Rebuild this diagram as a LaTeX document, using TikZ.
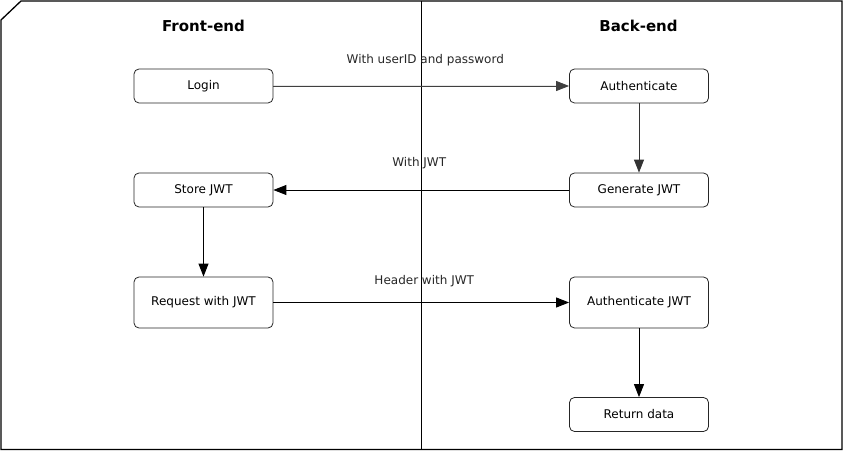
\documentclass[tikz,border=0pt]{standalone}
\usepackage{fontspec}
\setmainfont{DejaVu Sans}
\usetikzlibrary{arrows.meta}
\begin{document}
\begin{tikzpicture}[x=1bp,y=-1bp,
  box/.style={draw=black!85, line width=0.8bp, rounded corners=5bp, minimum width=139bp, inner sep=0pt, font=\fontsize{12bp}{14bp}\selectfont},
  sbox/.style={box, minimum height=34bp},
  tbox/.style={box, minimum height=51bp},
  title/.style={font=\fontsize{15bp}{18bp}\selectfont\bfseries},
  lbl/.style={font=\fontsize{12bp}{14bp}\selectfont, text=black!85},
  conn/.style={line width=0.9bp, -{Triangle[length=13bp,width=10bp]}},
]
\useasboundingbox (0,0) rectangle (843,451);
% frame
\draw[line width=1.3bp] (1,20) -- (21,1) -- (842,1) -- (842,449.5) -- (1,449.5) -- cycle;
\draw[line width=0.9bp] (421,1) -- (421,449.5);
% titles
\node[title] (tfe) at (203.5,26) {Front-end};
\node[title] (tbe) at (638.5,26) {Back-end};
% boxes
\node[sbox] (login) at (203.5,86) {Login};
\node[sbox] (auth) at (639,86) {Authenticate};
\node[sbox] (gen) at (639,190) {Generate JWT};
\node[sbox] (store) at (203.5,190) {Store JWT};
\node[tbox] (req) at (203.5,302.5) {Request with JWT};
\node[tbox] (authj) at (639,302.5) {Authenticate JWT};
\node[sbox] (ret) at (639,414.5) {Return data};
% connectors
\draw[conn, draw=black!75, fill=black!75] (login) -- node[lbl, above=16bp, xshift=4bp] {With userID and password} (auth);
\draw[conn, draw=black!80] (auth) -- (gen);
\draw[conn] (gen) -- node[lbl, above=17bp, xshift=-2bp] {With JWT} (store);
\draw[conn] (store) -- (req);
\draw[conn] (req) -- node[lbl, above=12bp, xshift=3bp] {Header with JWT} (authj);
\draw[conn] (authj) -- (ret);
\end{tikzpicture}
\end{document}
